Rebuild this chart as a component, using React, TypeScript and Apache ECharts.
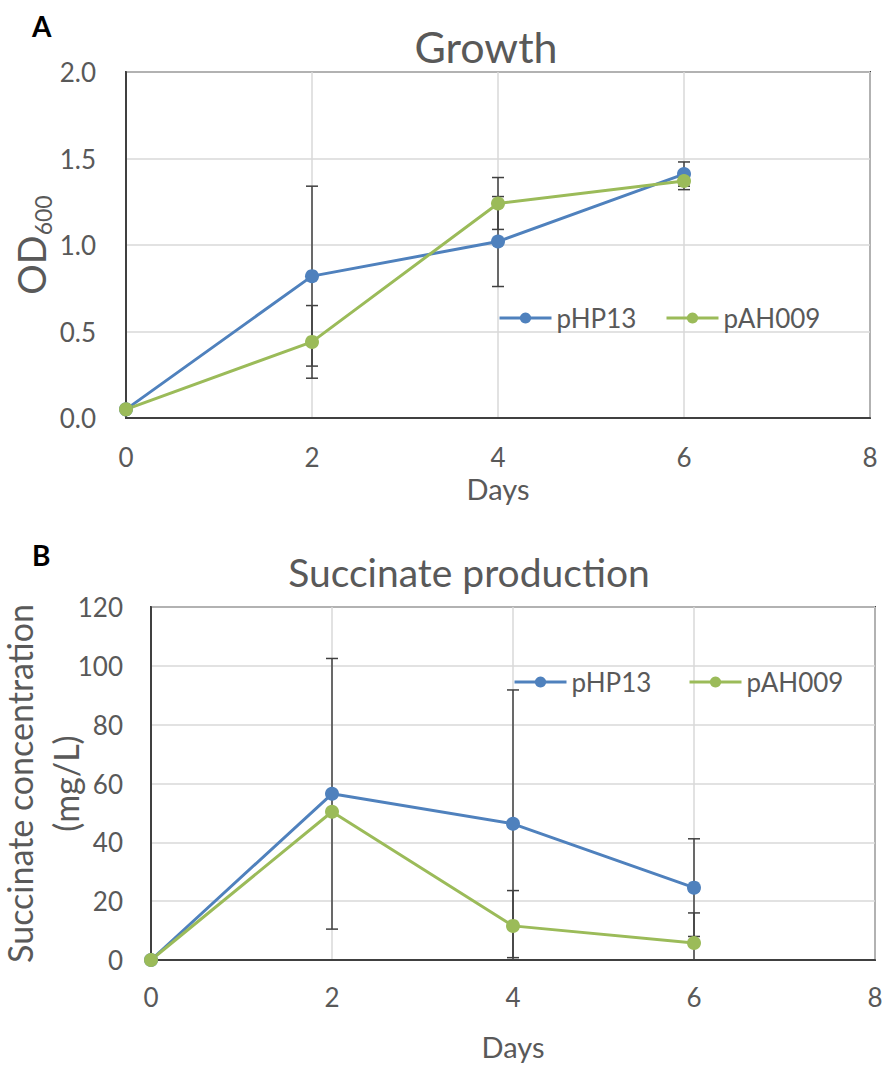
import React, { useEffect, useRef } from "react";
import * as echarts from "echarts";

const days = [0, 2, 4, 6];
const xTicks = [0, 2, 4, 6, 8];

const growthPHP13 = [0.05, 0.82, 1.02, 1.41];
const growthPHP13Err = [0, 0.52, 0.26, 0.07];
const growthPAH009 = [0.05, 0.44, 1.24, 1.37];
const growthPAH009Err = [0, 0.21, 0.15, 0.05];

const succPHP13 = [0, 56.5, 46.3, 24.6];
const succPHP13Err = [0, 46, 45.5, 16.6];
const succPAH009 = [0, 50.4, 11.6, 5.8];
const succPAH009Err = [0, 0, 12, 10.2];

const seriesNames = ["pHP13", "pAH009"];
const BLUE = "#4F81BD";
const GREEN = "#9BBB59";
const TEXT = "#595959";
const FONT = "Lato, 'Open Sans', sans-serif";

function errData(vals: number[], errs: number[]) {
  return days
    .map((d, i) => [d, vals[i] - errs[i], vals[i] + errs[i]])
    .filter((_, i) => errs[i] > 0);
}

function errSeries(data: number[][], gi: number) {
  return {
    type: "custom",
    xAxisIndex: gi,
    yAxisIndex: gi,
    z: 1,
    clip: true,
    silent: true,
    data,
    renderItem: (params: any, api: any) => {
      const x = api.value(0);
      const top = api.coord([x, api.value(2)]);
      const bot = api.coord([x, api.value(1)]);
      const w = 6;
      const style = { stroke: "#404040", lineWidth: 1.5 };
      return {
        type: "group",
        children: [
          { type: "line", shape: { x1: top[0], y1: top[1], x2: bot[0], y2: bot[1] }, style },
          { type: "line", shape: { x1: top[0] - w, y1: top[1], x2: top[0] + w, y2: top[1] }, style },
          { type: "line", shape: { x1: bot[0] - w, y1: bot[1], x2: bot[0] + w, y2: bot[1] }, style },
        ],
      };
    },
  };
}

function lineSeries(name: string, vals: number[], color: string, gi: number) {
  return {
    type: "line",
    name,
    xAxisIndex: gi,
    yAxisIndex: gi,
    z: 3,
    data: days.map((d, i) => [d, vals[i]]),
    symbol: "circle",
    symbolSize: 14,
    itemStyle: { color },
    lineStyle: { color, width: 3 },
  };
}

function legendItem(name: string, left: number, top: number) {
  return {
    data: [name],
    left,
    top,
    padding: 0,
    orient: "horizontal",
    selectedMode: false,
    itemWidth: 52,
    itemHeight: 14,
    itemGap: 0,
    lineStyle: { width: 3 },
    textStyle: { fontSize: 26, color: TEXT, fontFamily: FONT },
  };
}

const axisLabelStyle = { fontSize: 26, color: TEXT, fontFamily: FONT };

export default function App() {
  const ref = useRef<HTMLDivElement>(null);
  useEffect(() => {
    if (!ref.current) return;
    const chart = echarts.init(ref.current, undefined, { renderer: "svg" });
    const xAxisBase = (gi: number, margin: number, nameGap: number) => ({
      type: "value",
      gridIndex: gi,
      min: 0,
      max: 8,
      interval: 2,
      axisLine: { show: true, lineStyle: { color: "#404040", width: 2 } },
      axisTick: { show: false },
      splitLine: { show: true, lineStyle: { color: "#D9D9D9", width: 1.5 } },
      axisLabel: { ...axisLabelStyle, margin, formatter: (v: number) => (xTicks.includes(v) ? String(v) : "") },
      name: "Days",
      nameLocation: "middle",
      nameGap,
      nameMoveOverlap: false,
      nameTextStyle: { fontSize: 29, color: TEXT, fontFamily: FONT },
    });
    const gridBase = {
      show: true,
      borderColor: "#404040",
      borderWidth: 2,
      backgroundColor: "transparent",
      containLabel: false,
      outerBoundsMode: "none",
    };
    chart.setOption({
      animation: false,
      backgroundColor: "#ffffff",
      title: [
        {
          text: "Growth",
          left: 481,
          top: 20,
          textAlign: "center",
          textStyle: { fontSize: 43, fontWeight: "normal", color: TEXT, fontFamily: FONT },
        },
        {
          text: "Succinate production",
          left: 464,
          top: 547,
          textAlign: "center",
          textStyle: { fontSize: 39, fontWeight: "normal", color: TEXT, fontFamily: FONT },
        },
      ],
      legend: [
        legendItem("pHP13", 498, 305),
        legendItem("pAH009", 665, 305),
        legendItem("pHP13", 513, 669),
        legendItem("pAH009", 688, 669),
      ],
      graphic: [
        { type: "text", left: 32, top: 12, style: { text: "A", fontSize: 28, fontWeight: "bold", fill: "#000", fontFamily: FONT } },
        { type: "text", left: 32, top: 541, style: { text: "B", fontSize: 28, fontWeight: "bold", fill: "#000", fontFamily: FONT } },
      ],
      grid: [
        { ...gridBase, left: 126, top: 72, width: 744, height: 346 },
        { ...gridBase, left: 151, top: 607, width: 724, height: 353 },
      ],
      xAxis: [xAxisBase(0, 26, 56), xAxisBase(1, 24, 72)],
      yAxis: [
        {
          type: "value",
          gridIndex: 0,
          min: 0,
          max: 2,
          interval: 0.5,
          axisLine: { show: true, lineStyle: { color: "#404040", width: 2 } },
          axisTick: { show: false },
          splitLine: { show: true, lineStyle: { color: "#D9D9D9", width: 1.5 } },
          axisLabel: { ...axisLabelStyle, margin: 30, formatter: (v: number) => v.toFixed(1) },
          name: "{a|OD}{b|600}",
          nameLocation: "middle",
          nameGap: 72,
          nameMoveOverlap: false,
          nameTextStyle: {
            color: TEXT,
            fontFamily: FONT,
            rich: {
              a: { fontSize: 38, color: TEXT, fontFamily: FONT },
              b: { fontSize: 23, color: TEXT, fontFamily: FONT, padding: [24, 0, 0, 0] },
            },
          },
        },
        {
          type: "value",
          gridIndex: 1,
          min: 0,
          max: 120,
          interval: 20,
          axisLine: { show: true, lineStyle: { color: "#404040", width: 2 } },
          axisTick: { show: false },
          splitLine: { show: true, lineStyle: { color: "#D9D9D9", width: 1.5 } },
          axisLabel: { ...axisLabelStyle, margin: 28 },
          name: "Succinate concentration\n(mg/L)",
          nameLocation: "middle",
          nameGap: 63,
          nameMoveOverlap: false,
          nameTextStyle: { fontSize: 34, color: TEXT, fontFamily: FONT, lineHeight: 46 },
        },
      ],
      series: [
        errSeries(errData(growthPHP13, growthPHP13Err), 0),
        errSeries(errData(growthPAH009, growthPAH009Err), 0),
        lineSeries(seriesNames[0], growthPHP13, BLUE, 0),
        lineSeries(seriesNames[1], growthPAH009, GREEN, 0),
        errSeries(errData(succPHP13, succPHP13Err), 1),
        errSeries(errData(succPAH009, succPAH009Err), 1),
        lineSeries(seriesNames[0], succPHP13, BLUE, 1),
        lineSeries(seriesNames[1], succPAH009, GREEN, 1),
      ],
    });
    return () => chart.dispose();
  }, []);
  return (
    <div
      ref={ref}
      style={{ position: "absolute", left: 0, top: 0, width: 884, height: 1068, background: "#fff" }}
    />
  );
}
